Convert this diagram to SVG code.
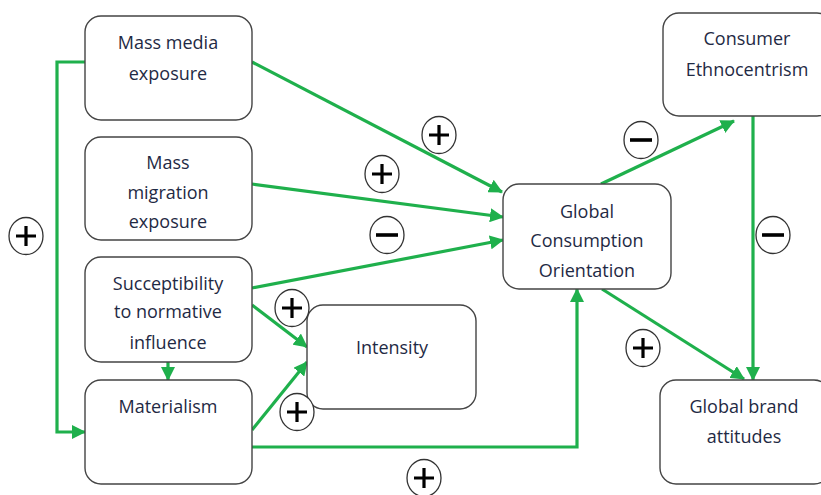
<svg xmlns="http://www.w3.org/2000/svg" width="821" height="495" viewBox="0 0 821 495">
<defs>
<marker id="ah" markerWidth="14" markerHeight="14" refX="13" refY="7" orient="auto" markerUnits="userSpaceOnUse">
<path d="M0,0 L14,7 L0,14 Z" fill="#1fb04c"/>
</marker>
<g id="plus"><ellipse cx="0" cy="0" rx="17" ry="18.5" fill="#fff" stroke="#333" stroke-width="1.3"/><path d="M-10,0 H10 M0,-10 V10" stroke="#000" stroke-width="3.2"/></g>
<g id="minus"><ellipse cx="0" cy="0" rx="17" ry="18.5" fill="#fff" stroke="#333" stroke-width="1.3"/><path d="M-11,0 H11" stroke="#000" stroke-width="3.6"/></g>
</defs>
<style>
.box{fill:#fff;stroke:#444;stroke-width:1.4}
.t{font-family:"Open Sans","Noto Sans",sans-serif;font-size:18px;fill:#1f2a44;text-anchor:middle}
.c{fill:none;stroke:#1fb04c;stroke-width:3.2}
</style>
<rect width="821" height="495" fill="#fff"/>
<g id="connectors">
<path class="c" d="M252,62 L502,192" marker-end="url(#ah)"/>
<path class="c" d="M252,184 L503,217" marker-end="url(#ah)"/>
<path class="c" d="M252,288 L503,240" marker-end="url(#ah)"/>
<path class="c" d="M252,305 L307,347" marker-end="url(#ah)"/>
<path class="c" d="M252,430 L307,362" marker-end="url(#ah)"/>
<path class="c" d="M168,362 L168,380" marker-end="url(#ah)"/>
<path class="c" d="M85,62 H57 V432 H85" marker-end="url(#ah)"/>
<path class="c" d="M252,447 H577 V289" marker-end="url(#ah)"/>
<path class="c" d="M601,184 L734,121" marker-end="url(#ah)"/>
<path class="c" d="M753,116 V380" marker-end="url(#ah)"/>
<path class="c" d="M602,289 L744,379" marker-end="url(#ah)"/>
</g>
<g id="n-massmedia"><rect class="box" x="85" y="16" width="167" height="104" rx="16"/><text class="t" x="168" y="49">Mass media</text><text class="t" x="168" y="80">exposure</text></g>
<g id="n-migration"><rect class="box" x="85" y="137" width="167" height="103" rx="16"/><text class="t" x="168" y="169">Mass</text><text class="t" x="168" y="199">migration</text><text class="t" x="168" y="228">exposure</text></g>
<g id="n-suscept"><rect class="box" x="85" y="257" width="167" height="105" rx="16"/><text class="t" x="168" y="290">Succeptibility</text><text class="t" x="168" y="318">to normative</text><text class="t" x="168" y="349">influence</text></g>
<g id="n-materialism"><rect class="box" x="85" y="380" width="167" height="104" rx="16"/><text class="t" x="168" y="413">Materialism</text></g>
<g id="n-intensity"><rect class="box" x="307" y="305" width="169" height="104" rx="16"/><text class="t" x="392" y="354">Intensity</text></g>
<g id="n-gco"><rect class="box" x="503" y="184" width="168" height="105" rx="16"/><text class="t" x="587" y="218">Global</text><text class="t" x="587" y="247">Consumption</text><text class="t" x="587" y="277">Orientation</text></g>
<g id="n-ce"><rect class="box" x="663" y="13" width="170" height="103" rx="16"/><text class="t" x="747" y="45">Consumer</text><text class="t" x="747" y="76">Ethnocentrism</text></g>
<g id="n-gba"><rect class="box" x="660" y="380" width="170" height="104" rx="16"/><text class="t" x="744" y="413">Global brand</text><text class="t" x="744" y="443">attitudes</text></g>
<g id="signs">
<use href="#plus" x="26" y="236"/>
<use href="#plus" x="439" y="135"/>
<use href="#plus" x="382" y="174"/>
<use href="#minus" x="387" y="235"/>
<use href="#plus" x="292" y="308"/>
<use href="#plus" x="297" y="412"/>
<use href="#plus" x="424" y="478"/>
<use href="#minus" x="641" y="140"/>
<use href="#minus" x="773" y="235"/>
<use href="#plus" x="643" y="348"/>
</g>
</svg>
